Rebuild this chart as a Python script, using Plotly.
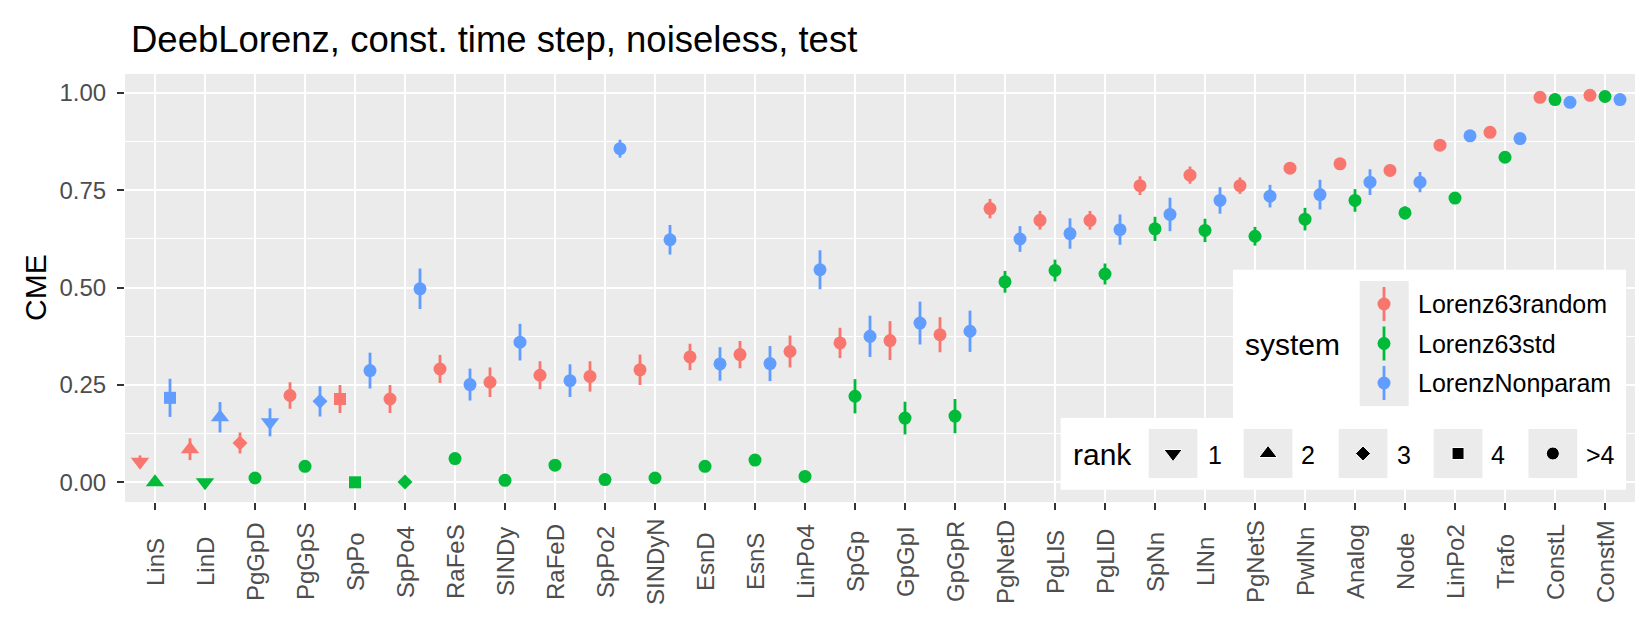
import plotly.graph_objects as go

# ---------------- data ----------------
methods = ["LinS", "LinD", "PgGpD", "PgGpS", "SpPo", "SpPo4", "RaFeS", "SINDy", "RaFeD", "SpPo2",
           "SINDyN", "EsnD", "EsnS", "LinPo4", "SpGp", "GpGpI", "GpGpR", "PgNetD", "PgLlS", "PgLlD",
           "SpNn", "LlNn", "PgNetS", "PwlNn", "Analog", "Node", "LinPo2", "Trafo", "ConstL", "ConstM"]

systems = ["Lorenz63random", "Lorenz63std", "LorenzNonparam"]

random_mean = [0.053, 0.085, 0.101, 0.223, 0.214, 0.214, 0.291, 0.257, 0.275, 0.272,
               0.289, 0.322, 0.328, 0.336, 0.358, 0.364, 0.379, 0.703, 0.673, 0.673,
               0.762, 0.789, 0.762, 0.807, 0.818, 0.801, 0.866, 0.899, 0.989, 0.994]
random_err = [0.016, 0.028, 0.027, 0.034, 0.036, 0.036, 0.036, 0.038, 0.036, 0.039,
              0.039, 0.034, 0.035, 0.041, 0.039, 0.050, 0.045, 0.025, 0.024, 0.024,
              0.024, 0.022, 0.021, 0.015, 0.008, 0.008, 0.005, 0.004, 0.003, 0.002]
random_rank = [1, 2, 3, 5, 4, 5, 5, 5, 5, 5, 5, 5, 5, 5, 5, 5, 5, 5, 5, 5,
               5, 5, 5, 5, 5, 5, 5, 5, 5, 5]

std_mean = [0.000, 0.000, 0.011, 0.041, 0.000, 0.001, 0.061, 0.005, 0.044, 0.007,
            0.011, 0.041, 0.057, 0.015, 0.221, 0.165, 0.170, 0.515, 0.544, 0.535,
            0.651, 0.647, 0.632, 0.676, 0.724, 0.692, 0.730, 0.835, 0.983, 0.991]
std_err = [0.003, 0.003, 0.004, 0.004, 0.003, 0.003, 0.004, 0.003, 0.004, 0.003,
           0.004, 0.004, 0.004, 0.004, 0.044, 0.042, 0.044, 0.028, 0.028, 0.027,
           0.031, 0.030, 0.024, 0.029, 0.029, 0.017, 0.010, 0.010, 0.003, 0.002]
std_rank = [2, 1, 5, 5, 4, 3, 5, 5, 5, 5, 5, 5, 5, 5, 5, 5, 5, 5, 5, 5,
            5, 5, 5, 5, 5, 5, 5, 5, 5, 5]

nonparam_mean = [0.217, 0.167, 0.154, 0.208, 0.287, 0.497, 0.251, 0.360, 0.261, 0.857,
                 0.623, 0.304, 0.305, 0.546, 0.375, 0.409, 0.388, 0.625, 0.639, 0.649,
                 0.688, 0.724, 0.735, 0.739, 0.771, 0.771, 0.890, 0.883, 0.976, 0.983]
nonparam_err = [0.049, 0.039, 0.036, 0.039, 0.046, 0.052, 0.041, 0.047, 0.042, 0.023,
                0.038, 0.043, 0.045, 0.050, 0.053, 0.055, 0.053, 0.033, 0.039, 0.039,
                0.043, 0.034, 0.029, 0.038, 0.033, 0.026, 0.006, 0.006, 0.003, 0.002]
nonparam_rank = [4, 2, 1, 3, 5, 5, 5, 5, 5, 5, 5, 5, 5, 5, 5, 5, 5, 5, 5, 5,
                 5, 5, 5, 5, 5, 5, 5, 5, 5, 5]

rank_labels = ["1", "2", "3", "4", ">4"]
y_tickvals = [0.0, 0.25, 0.5, 0.75, 1.0]
y_ticktext = ["0.00", "0.25", "0.50", "0.75", "1.00"]

# ---------------- style ----------------
FONT = "Liberation Sans, Arial, Helvetica, sans-serif"
colors = ["#F8766D", "#00BA38", "#619CFF"]
dodge = [-0.3, 0.0, 0.3]
symbol_map = {1: "triangle-down", 2: "triangle-up", 3: "diamond", 4: "square", 5: "circle"}
size_map = {1: 16, 2: 16, 3: 11.5, 4: 12, 5: 13}

W, H = 1644, 617
PX_L, PX_R, PY_T, PY_B = 117, 1627, 66, 494
X_RANGE = [-0.6, len(methods) - 1 + 0.6]
Y_RANGE = [-0.0506, 1.0488]


def px2x(px):
    return X_RANGE[0] + (px - PX_L) / (PX_R - PX_L) * (X_RANGE[1] - X_RANGE[0])


def py2y(py):
    return Y_RANGE[1] - (py - PY_T) / (PY_B - PY_T) * (Y_RANGE[1] - Y_RANGE[0])


def dy(pix):
    return pix / (PY_B - PY_T) * (Y_RANGE[1] - Y_RANGE[0])


means = [random_mean, std_mean, nonparam_mean]
errs = [random_err, std_err, nonparam_err]
ranks = [random_rank, std_rank, nonparam_rank]

fig = go.Figure()

for s in range(3):
    xs = [i + dodge[s] for i in range(len(methods))]
    fig.add_trace(go.Scatter(
        x=xs, y=means[s], mode="markers", name=systems[s], showlegend=False,
        marker=dict(color=colors[s], symbol=[symbol_map[r] for r in ranks[s]],
                    size=[size_map[r] for r in ranks[s]], opacity=1, line=dict(width=0)),
        error_y=dict(type="data", array=errs[s], color=colors[s], thickness=2.8, width=0),
        opacity=1, hoverinfo="skip",
    ))

# ---------------- manual ggplot-style legends ----------------
shapes = []
annotations = []
shapes.append(dict(type="rect", xref="x", yref="y", layer="between",
                   x0=px2x(1225), x1=px2x(1618), y0=py2y(261.7), y1=py2y(410.5),
                   fillcolor="white", line=dict(width=0)))
shapes.append(dict(type="rect", xref="x", yref="y", layer="between",
                   x0=px2x(1052.7), x1=px2x(1618), y0=py2y(410), y1=py2y(481.7),
                   fillcolor="white", line=dict(width=0)))
shapes.append(dict(type="rect", xref="x", yref="y", layer="between",
                   x0=px2x(1351.7), x1=px2x(1400.7), y0=py2y(273), y1=py2y(398),
                   fillcolor="#EBEBEB", line=dict(width=0)))
key_y = [296, 335.5, 375]
for s in range(3):
    fig.add_trace(go.Scatter(
        x=[px2x(1376)], y=[py2y(key_y[s])], mode="markers", showlegend=False, hoverinfo="skip",
        marker=dict(color=colors[s], symbol="circle", size=13, opacity=1),
        error_y=dict(type="data", array=[dy(17)], color=colors[s], thickness=2.8, width=0),
        opacity=1,
    ))
    annotations.append(dict(xref="x", yref="y", x=px2x(1408), y=py2y(key_y[s]),
                            text=systems[s], showarrow=False, xanchor="left", yanchor="middle",
                            font=dict(family=FONT, size=25, color="black")))
annotations.append(dict(xref="x", yref="y", x=px2x(1235), y=py2y(336.5), text="system",
                        showarrow=False, xanchor="left", yanchor="middle",
                        font=dict(family=FONT, size=30, color="black")))

rank_box_x = [1140.7, 1235.7, 1330.7, 1425.7, 1520.5]
rank_lab_x = [1198, 1291, 1387, 1481, 1576]
for k in range(5):
    shapes.append(dict(type="rect", xref="x", yref="y", layer="between",
                       x0=px2x(rank_box_x[k]), x1=px2x(rank_box_x[k] + 48.7),
                       y0=py2y(421), y1=py2y(470),
                       fillcolor="#EBEBEB", line=dict(width=0)))
    annotations.append(dict(xref="x", yref="y", x=px2x(rank_lab_x[k]), y=py2y(446.5),
                            text=rank_labels[k], showarrow=False, xanchor="left", yanchor="middle",
                            font=dict(family=FONT, size=25, color="black")))
fig.add_trace(go.Scatter(
    x=[px2x(bx + 24.35) for bx in rank_box_x], y=[py2y(445.5)] * 5, mode="markers",
    showlegend=False, hoverinfo="skip", opacity=1,
    marker=dict(color="black", symbol=[symbol_map[r] for r in [1, 2, 3, 4, 5]],
                size=[size_map[r] for r in [1, 2, 3, 4, 5]], opacity=1),
))
annotations.append(dict(xref="x", yref="y", x=px2x(1063), y=py2y(446.5), text="rank",
                        showarrow=False, xanchor="left", yanchor="middle",
                        font=dict(family=FONT, size=30, color="black")))

for i, m in enumerate(methods):
    annotations.append(dict(xref="x", yref="paper", x=i, y=(PY_B - 554) / (PY_B - PY_T),
                            text=m, showarrow=False, textangle=-90,
                            xanchor="center", yanchor="middle",
                            font=dict(family=FONT, size=24, color="#4D4D4D")))
annotations.append(dict(xref="paper", yref="paper", x=(27 - PX_L) / (PX_R - PX_L), y=0.5,
                        text="CME", showarrow=False, textangle=-90,
                        xanchor="center", yanchor="middle",
                        font=dict(family=FONT, size=30, color="black")))

fig.update_layout(
    width=W, height=H,
    margin=dict(l=PX_L, r=W - PX_R, t=PY_T, b=H - PY_B, pad=0),
    paper_bgcolor="white", plot_bgcolor="#EBEBEB",
    title=dict(text="DeebLorenz, const. time step, noiseless, test",
               x=123 / W, xref="container", xanchor="left",
               y=1 - 31 / H, yref="container", yanchor="middle",
               font=dict(family=FONT, size=36.5, color="black")),
    font=dict(family=FONT),
    shapes=shapes, annotations=annotations,
    showlegend=False,
    xaxis=dict(range=X_RANGE, tickmode="array", tickvals=list(range(len(methods))),
               showticklabels=False, ticks="outside", ticklen=7, tickwidth=2, tickcolor="#333333",
               showgrid=True, gridcolor="white", gridwidth=2.2, zeroline=False, showline=False,
               fixedrange=True),
    yaxis=dict(range=Y_RANGE, tickmode="array", tickvals=y_tickvals, ticktext=y_ticktext,
               ticks="outside", ticklen=7, tickwidth=2, tickcolor="#333333",
               ticklabelstandoff=6,
               tickfont=dict(family=FONT, size=24, color="#4D4D4D"),
               showgrid=True, gridcolor="white", gridwidth=2.2, zeroline=False, showline=False,
               minor=dict(tickvals=[0.125, 0.375, 0.625, 0.875], showgrid=True,
                          gridcolor="white", gridwidth=1.1, ticks=""),
               fixedrange=True),
)

fig.write_html("out.html")
